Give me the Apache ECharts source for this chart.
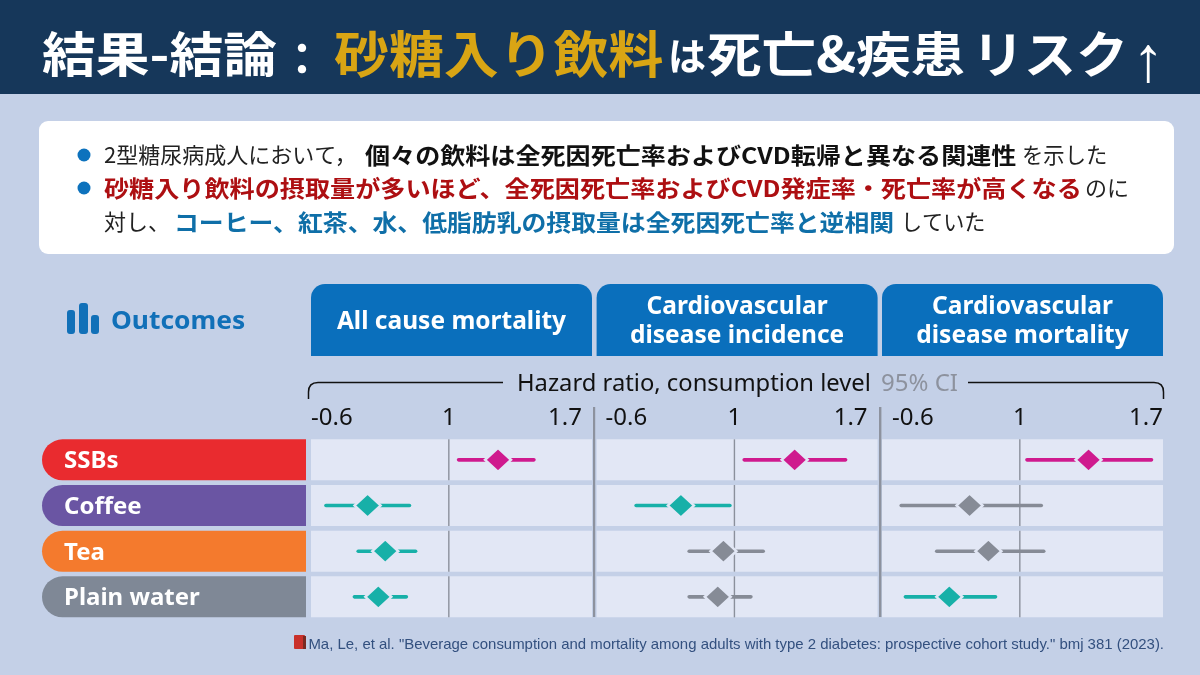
<!DOCTYPE html>
<html><head><meta charset="utf-8">
<style>html,body{margin:0;padding:0;background:#c4d0e7}#c{width:1200px;height:675px}</style>
<script src="https://cdn.jsdelivr.net/npm/echarts@6/dist/echarts.min.js"></script>
</head><body><div id="c"></div>
<script>
const categories = ['SSBs','Coffee','Tea','Plain water'];
const panelTitles = ['All cause mortality','Cardiovascular\ndisease incidence','Cardiovascular\ndisease mortality'];
const tickLabels = ['-0.6','1','1.7'];
const tickValues = [0.6,1,1.7];
// [low, estimate, high] per beverage
const allCause = [[1.03,1.20,1.38],[0.63,0.74,0.87],[0.71,0.79,0.89],[0.70,0.77,0.86]];
const cvdIncidence = [[1.03,1.25,1.52],[0.69,0.82,0.99],[0.84,0.96,1.12],[0.84,0.94,1.07]];
const cvdMortality = [[1.02,1.29,1.64],[0.64,0.83,1.09],[0.73,0.89,1.10],[0.65,0.77,0.92]];
const panels = [allCause,cvdIncidence,cvdMortality];

const pillColors = ['#e92b2f','#6a55a3','#f47a2d','#7f8896'];
const panelBg = '#e2e7f5';
const JP = '"Noto Sans CJK JP"';
const LAT = '"Noto Sans","Noto Sans CJK JP"';
const markColor = r => r[0] > 1 ? '#cf1a8e' : r[2] < 1 ? '#17b0a8' : '#868b96';

const gridLeft = [311,596.6,882];
const gridW = 281;
const minPad = [0,9,10];
const maxPad = [10,10,0];
const grids=[],xAxes=[],yAxes=[],series=[];
panels.forEach((p,k)=>{
  const tickFont={fontSize:24,color:'#111',fontFamily:LAT};
  grids.push({left:gridLeft[k],width:gridW,top:437,height:182.7});
  xAxes.push({type:'log',gridIndex:k,position:'top',min:0.6,max:1.7,
    axisLine:{show:false},axisTick:{show:false},splitLine:{show:false},
    axisLabel:{customValues:tickValues,margin:7,...tickFont,
      alignMinLabel:'left',alignMaxLabel:'right',
      formatter:v=>{const i=tickValues.findIndex(t=>Math.abs(t-v)<1e-6);return i<0?'':`{t${i}|${tickLabels[i]}}`;},
      rich:{t0:{...tickFont,padding:[0,0,0,minPad[k]]},t1:{...tickFont},t2:{...tickFont,padding:[0,maxPad[k],0,0]}}}});
  yAxes.push({type:'category',gridIndex:k,data:categories,inverse:true,show:k===0,
    axisLine:{show:false},axisTick:{show:false},splitLine:{show:false},
    axisLabel:{show:k===0,margin:5,align:'right',
      formatter:(v,i)=>`{r${i}|${v}}`,
      rich:Object.fromEntries(pillColors.map((c,i)=>['r'+i,{
        backgroundColor:c,color:'#fff',fontFamily:LAT,fontWeight:700,fontSize:24,
        width:242,height:38,lineHeight:38,padding:[3,0,0,22],align:'left',
        borderRadius:[20.5,0,0,20.5]}]))}});
  series.push({type:'custom',xAxisIndex:k,yAxisIndex:k,silent:true,z:1,
    data:categories.map((c,i)=>[0.6,1.7,i]),encode:{x:[0,1],y:2},
    renderItem:(params,api)=>{
      const a=api.coord([api.value(0),api.value(2)]),b=api.coord([api.value(1),api.value(2)]);
      const one=api.coord([1,api.value(2)]);
      const h=41;
      return {type:'group',children:[
        {type:'rect',shape:{x:a[0],y:a[1]-h/2,width:b[0]-a[0],height:h},style:{fill:panelBg}},
        {type:'line',shape:{x1:one[0],y1:a[1]-h/2,x2:one[0],y2:a[1]+h/2},style:{stroke:'#8b909c',lineWidth:1.4}}
      ]};
    }});
  series.push({type:'custom',xAxisIndex:k,yAxisIndex:k,silent:true,z:2,
    data:p.map((r,i)=>({value:[r[0],r[2],i]})),encode:{x:[0,1],y:2},
    renderItem:(params,api)=>{
      const a=api.coord([api.value(0),api.value(2)]),b=api.coord([api.value(1),api.value(2)]);
      return {type:'line',shape:{x1:a[0]+1.8,y1:a[1],x2:b[0]-1.8,y2:b[1]},
        style:{stroke:markColor(p[params.dataIndex]),lineWidth:3.6,lineCap:'round'}};
    }});
  series.push({type:'scatter',xAxisIndex:k,yAxisIndex:k,silent:true,z:3,symbol:'diamond',symbolSize:[26,24],
    data:p.map((r,i)=>({value:[r[1],i],itemStyle:{color:markColor(r),opacity:1,borderColor:panelBg,borderWidth:2.5}}))});
});

const T=(text,x,y,font,fill,opt={},sx=1)=>({type:'text',silent:true,z:5,x,y,scaleX:sx,style:Object.assign({text,x:0,y:0,font,fill,textVerticalAlign:'middle',textAlign:'left'},opt)});
const R=(x,y,w,h,fill,r=0)=>({type:'rect',silent:true,z:2,shape:{x,y,width:w,height:h,r},style:{fill}});
const stroke={fill:'none',stroke:'#111',lineWidth:1.5};
const L=(x1,y1,x2,y2)=>({type:'line',silent:true,z:3,shape:{x1,y1,x2,y2},style:stroke});
const C=(x1,y1,x2,y2,cpx1,cpy1)=>({type:'bezierCurve',silent:true,z:3,shape:{x1,y1,x2,y2,cpx1,cpy1},style:stroke});
const N='400 22px '+JP, B='700 23px '+JP;
const graphic=[
  R(0,0,1200,94,'#16375a'),
  T('結果-結論',42,54,'700 48px '+JP,'#fff',{},1.12),
  T('：',280,58,'700 44px '+JP,'#fff'),
  T('砂糖入り飲料',334,54,'700 50px '+JP,'#d9a514',{},1.098),
  T('は',668,56,'700 38px '+JP,'#fff'),
  T('死亡&疾患',707,54,'700 48px '+JP,'#fff',{},1.135),
  T('リスク',972,54,'700 50px '+JP,'#fff',{},1.04),
  T('↑',1132,63,'400 64px "Liberation Sans"','#fff'),
  R(39,121,1135,133,'#fff',9),
  {type:'circle',silent:true,z:4,shape:{cx:84,cy:155,r:6.5},style:{fill:'#0d72bd'}},
  {type:'circle',silent:true,z:4,shape:{cx:84,cy:188,r:6.5},style:{fill:'#0d72bd'}},
  T('2型糖尿病成人において，',104,155,N,'#222'),
  T('個々の飲料は全死因死亡率およびCVD転帰と異なる関連性',365,155,B,'#111',{},1.09),
  T('を示した',1022,155,N,'#222',{},0.97),
  T('砂糖入り飲料の摂取量が多いほど、全死因死亡率およびCVD発症率・死亡率が高くなる',104,188,B,'#ad0f12',{},1.092),
  T('のに',1085,188,N,'#222'),
  T('対し、',104,222,N,'#222'),
  T('コーヒー、紅茶、水、低脂肪乳の摂取量は全死因死亡率と逆相関',174,222,B,'#0f6fa8',{},1.08),
  T('していた',901,222,N,'#222',{},0.96),
  // Outcomes icon
  R(67,310,8,24,'#1170b8',3),R(79,303,9,31,'#1170b8',3),R(91,315,8,19,'#1170b8',3),
  T('Outcomes',111,322,'700 25px '+LAT,'#1170b8',{},1.055),
  // header tabs
  ...panelTitles.flatMap((t,k)=>[
    {type:'rect',silent:true,z:2,shape:{x:gridLeft[k],y:284,width:gridW,height:72,r:[14,14,0,0]},style:{fill:'#0a6fbc'}},
    T(t,gridLeft[k]+140.5,322,'700 24.5px '+LAT,'#fff',{textAlign:'center',lineHeight:29})
  ]),
  // bracket
  L(308.5,399,308.5,392),C(308.5,392,318,382.5,308.5,382.5),L(318,382.5,503,382.5),
  L(968,382.5,1154,382.5),C(1154,382.5,1163.5,392,1163.5,382.5),L(1163.5,392,1163.5,399),
  T('Hazard ratio, consumption level',517,384,'400 24px '+LAT,'#111',{},0.99),
  T('95% CI',881,384,'400 24px '+LAT,'#8d929e'),
  // separators
  R(593,407,2.2,210,'#8d929e'),R(879,407,2.4,210,'#8d929e'),
  // citation
  R(294,635,11,14,'#c9302a',1),R(303,636,3,13,'#7a2a22'),
  T('Ma, Le, et al. "Beverage consumption and mortality among adults with type 2 diabetes: prospective cohort study." bmj 381 (2023).',1164,645,'400 14.95px "Liberation Sans"','#33507f',{textAlign:'right'})
];
const chart=echarts.init(document.getElementById('c'),null,{renderer:'canvas'});
chart.setOption({animation:false,backgroundColor:'#c4d0e7',grid:grids,xAxis:xAxes,yAxis:yAxes,series,graphic:{elements:graphic}});
</script></body></html>
